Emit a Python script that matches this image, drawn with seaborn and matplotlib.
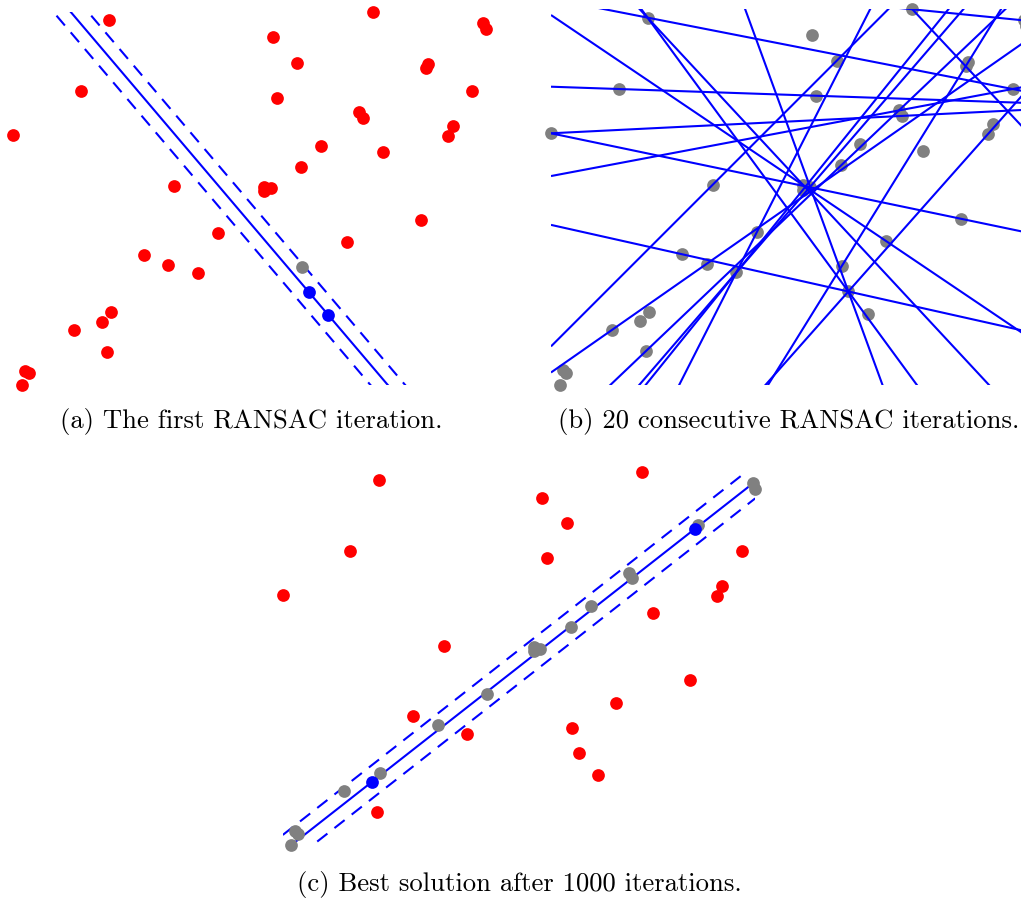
import numpy as np
import matplotlib
matplotlib.use("Agg")
import matplotlib.pyplot as plt
import seaborn as sns

sns.set_theme(style="white")
plt.rcParams["font.family"] = ["cmr10", "DejaVu Serif"]
plt.rcParams["mathtext.fontset"] = "cm"
plt.rcParams["axes.formatter.use_mathtext"] = True

# Point cloud shared by all three panels
xs = [2.032, 7.608, 9.949, 10.000, 5.491, 6.012, 8.785, 8.730, 1.427, 5.588,
      9.716, 0.000, 7.324, 7.396, 9.301, 9.195, 6.514, 7.832, 6.097, 3.408,
      5.313, 5.455, 5.307, 8.630, 4.333, 7.058, 2.760, 3.281, 3.903, 6.118,
      6.260, 6.668, 2.062, 1.884, 1.291, 1.990, 0.248, 0.326, 0.184]
ys = [7.727, 7.902, 7.669, 7.542, 7.360, 6.816, 6.789, 6.704, 6.224, 6.082,
      6.224, 5.292, 5.773, 5.658, 5.483, 5.271, 5.066, 4.926, 4.621, 4.213,
      4.198, 4.164, 4.107, 3.493, 3.211, 3.021, 2.746, 2.547, 2.365, 2.492,
      1.962, 1.482, 1.539, 1.340, 1.158, 0.699, 0.303, 0.248, 0.000]

# Index pairs drawn as minimal samples
first_sample = (30, 31)
trial_samples = [(11, 13), (11, 23), (8, 9), (0, 10), (12, 10), (26, 30),
                 (5, 19), (34, 27), (1, 2), (1, 7), (0, 20), (0, 30),
                 (21, 30), (20, 25), (15, 30), (28, 21), (28, 22), (28, 24),
                 (35, 12), (29, 7)]
best_sample = (33, 7)
threshold = 0.28

captions = ["(a) The first RANSAC iteration.",
            "(b) 20 consecutive RANSAC iterations.",
            "(c) Best solution after 1000 iterations."]

RED, GRAY, BLUE = "#ff0000", "#808080", "#0000ff"
DOT = 84
LW = 1.5
DASH = (0, (6.2, 4.3))

x = np.array(xs)
y = np.array(ys)

W, H = 1021, 899
fig = plt.figure(figsize=(W / 100, H / 100), dpi=100)


def axes_px(left, top, right, bottom):
    ax = fig.add_axes([left / W, 1 - bottom / H, (right - left) / W, (bottom - top) / H])
    ax.set_xlim(x.min(), x.max())
    ax.set_ylim(y.min(), y.max())
    ax.set_axis_off()
    return ax


def line_through(ax, pair, offset=0.0, **kw):
    i, j = pair
    slope = (y[j] - y[i]) / (x[j] - x[i])
    shift = offset * np.hypot(1.0, slope)
    xx = np.array([x.min(), x.max()])
    yy = y[i] + slope * (xx - x[i]) + shift
    ax.plot(xx, yy, color=BLUE, lw=LW, solid_capstyle="butt", **kw)


def distances(pair):
    i, j = pair
    d = np.array([x[j] - x[i], y[j] - y[i]])
    n = np.array([-d[1], d[0]]) / np.hypot(*d)
    return (x - x[i]) * n[0] + (y - y[i]) * n[1]


def dots(ax, idx, color, z):
    idx = np.asarray(idx)
    if idx.size == 0:
        return
    sns.scatterplot(x=x[idx], y=y[idx], color=color, s=DOT, linewidth=0,
                    legend=False, ax=ax, clip_on=False, zorder=z)


def model_panel(ax, pair):
    line_through(ax, pair, zorder=2)
    line_through(ax, pair, threshold, linestyle=DASH, zorder=2)
    line_through(ax, pair, -threshold, linestyle=DASH, zorder=2)
    near = np.abs(distances(pair)) <= threshold
    inl = near.copy()
    inl[list(pair)] = False
    dots(ax, np.where(~near)[0], RED, 3)
    dots(ax, np.where(inl)[0], GRAY, 4)
    dots(ax, list(pair), BLUE, 5)


# (a) first iteration
ax_a = axes_px(13.3, 11.7, 485.7, 385.0)
model_panel(ax_a, first_sample)

# (b) twenty trial lines over the whole cloud
ax_b = axes_px(551.0, 9.3, 1026.0, 384.7)
dots(ax_b, np.arange(len(x)), GRAY, 2)
for pair in trial_samples:
    line_through(ax_b, pair, zorder=3)

# (c) best consensus
ax_c = axes_px(282.8, 472.0, 755.2, 845.3)
model_panel(ax_c, best_sample)

for (cx, cy), text in zip([(251, 422), (788.5, 422), (519.5, 884)], captions):
    fig.text(cx / W, 1 - cy / H, text, ha="center", va="center", fontsize=19.2,
             color="black")

fig.savefig("out.png", dpi=100, facecolor="white")
